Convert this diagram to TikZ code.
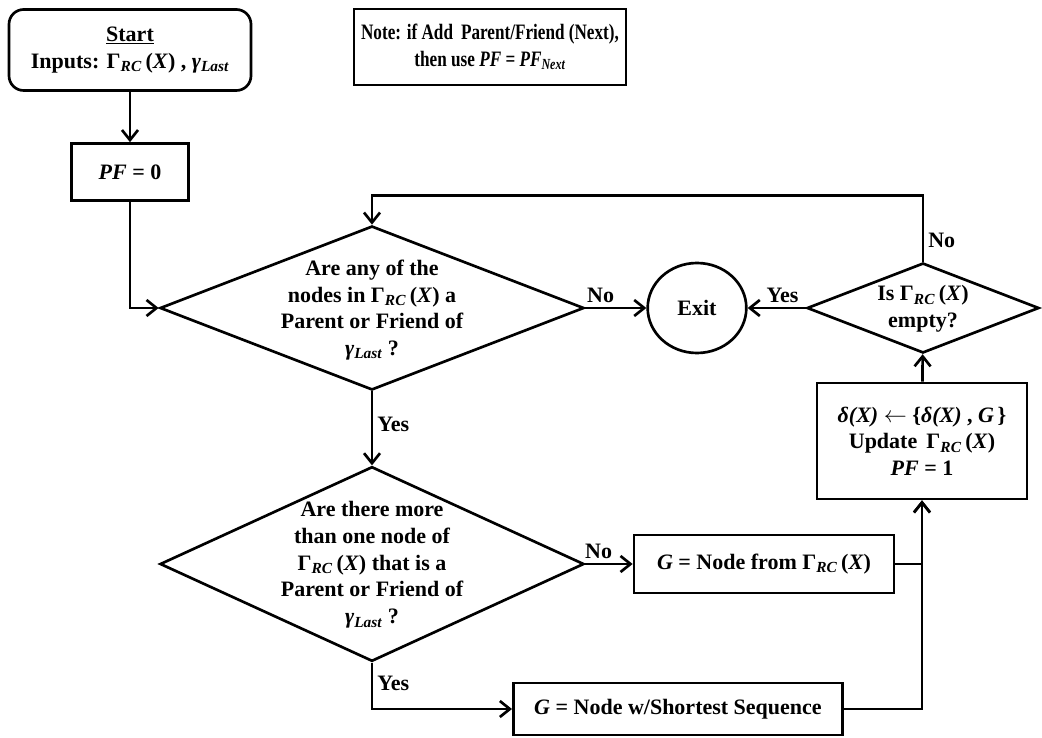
\documentclass[tikz,border=0pt]{standalone}
\usepackage{fontspec}
\setmainfont{Liberation Serif}
\newfontfamily\notefont{Liberation Serif}[FakeStretch=0.78]
\usetikzlibrary{arrows.meta,positioning,shapes.geometric}
\newcommand{\GRC}{Γ\textsubscript{\itshape RC}\,(\textit{X})}
\newcommand{\gLast}{\textit{γ}\textsubscript{\itshape Last}}

\begin{document}
\begin{tikzpicture}[x=0.75pt,y=-0.75pt,line width=2pt,
  every node/.style={font=\bfseries\fontsize{16.5}{20}\selectfont,align=center},
  box/.style={draw,rectangle,inner sep=2pt},
  decision/.style={draw,diamond,inner sep=0pt},
  lbl/.style={inner sep=3pt},
  flow/.style={-{Straight Barb[length=7.5pt,width=12pt]}}]
\useasboundingbox (0,0) rectangle (1042,738);
% left column
\node[box,rounded corners=11pt,minimum width=181.5pt,minimum height=60.75pt] (start) at (130,50) {\underline{Start}\\ Inputs: \GRC{} , \gLast};
\node[box,minimum width=87.75pt,minimum height=42.75pt] (pf) at (130,172) {\textit{PF} = 0};
\node[box,minimum width=204pt,minimum height=57pt,font=\notefont\bfseries\fontsize{16.5}{20}\selectfont] (note) at (490,47) {Note: if Add\, Parent/Friend (Next),\\ then use \textit{PF} = \textit{PF}\textsubscript{\itshape Next}};
% decisions
\node[decision,minimum width=318pt,minimum height=123pt] (d1) at (372,308) {};
\node (d1txt) at (372,310) {Are any of the\\ nodes in \GRC{} a\\ Parent or Friend of\\ \gLast{} ?};
\node[draw,ellipse,minimum width=74pt,minimum height=67.5pt] (exit) at (697,308) {Exit};
\node[decision,minimum width=174pt,minimum height=67.5pt] (d2) at (923,308) {};
\node (d2txt) at (923,309) {Is \GRC\\ empty?};
\node[box,minimum width=157.5pt,minimum height=87pt] (upd) at (922,441) {\textit{δ(X)} $\leftarrow$ \{\textit{δ(X)} , \textit{G}\,\}\\ Update\, \GRC\\ \textit{PF} = 1};
\node[decision,minimum width=318pt,minimum height=146pt] (d3) at (372,564) {};
\node (d3txt) at (372,565) {Are there more\\ than one node of\\ \GRC{} that is a\\ Parent or Friend of\\ \gLast{} ?};
\node[box,minimum width=195pt,minimum height=43.5pt] (g1) at (764,564) {\textit{G} = Node from \GRC};
\node[box,minimum width=247pt,minimum height=39pt] (g2) at (678,709) {\textit{G} = Node w/Shortest Sequence};
% connectors
\draw[flow] (start) -- (pf);
\draw[flow] (pf.south) |- (d1.west);
\draw[flow] (d1.east) -- node[lbl,above,pos=0.25] (no1) {No} (exit.west);
\draw[flow] (d2.west) -- node[lbl,above,pos=0.4] (yes2) {Yes} (exit.east);
\draw[flow] (d2.north) -- node[lbl,right,pos=0.32] (no2) {No} ++(0,-66) -| (d1.north);
\draw[flow] (d1.south) -- node[lbl,right,pos=0.45] (yes1) {Yes} (d3.north);
\draw[flow] (d3.east) -- node[lbl,above,pos=0.28] (no3) {No} (g1.west);
\draw[flow] (d3.south) |- node[lbl,right,pos=0.22] (yes3) {Yes} (g2.west);
\draw[flow] (g1.east) -| (upd.south);
\draw[flow] (g2.east) -| (upd.south);
\draw[flow] (upd) -- (d2);
\end{tikzpicture}
\end{document}
